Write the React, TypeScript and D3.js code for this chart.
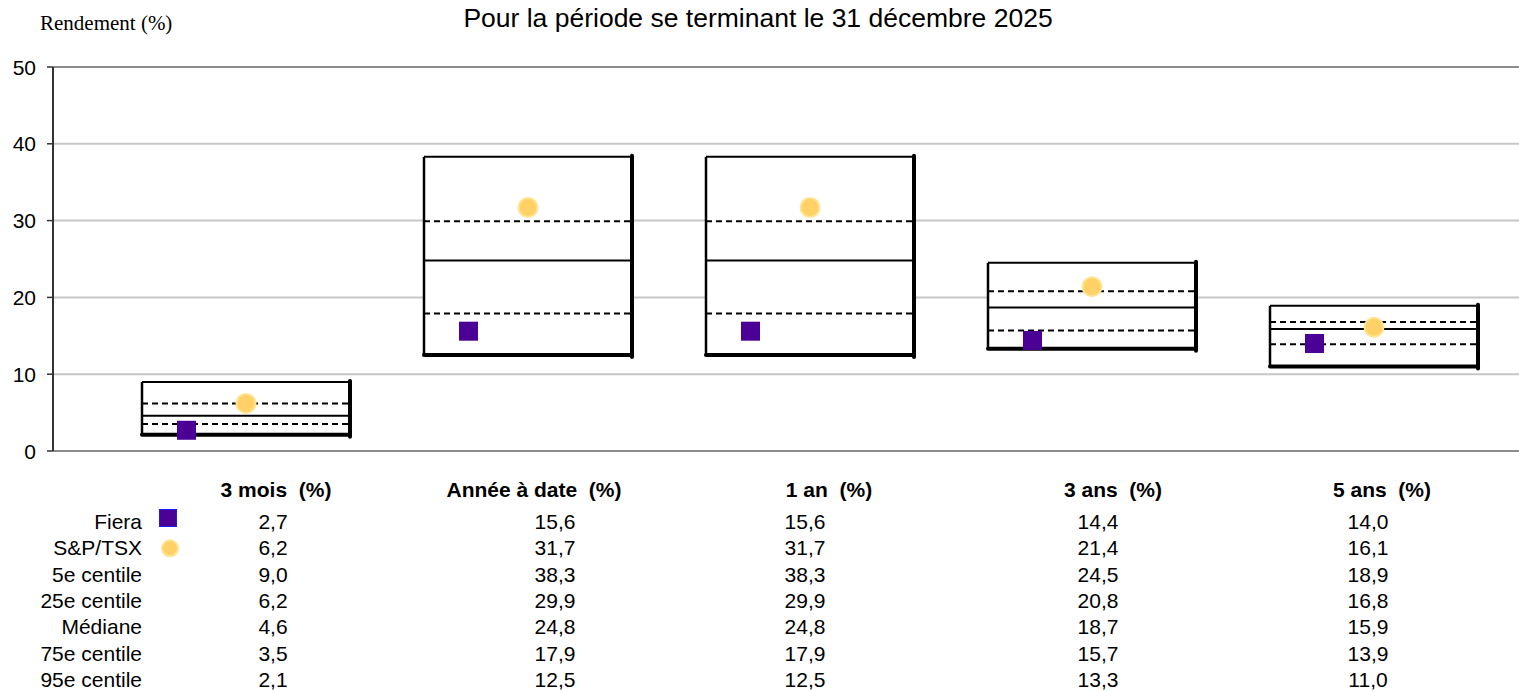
import * as d3 from "d3";

// Périodes et statistiques de l'univers (rendement en %)
const periods = ["3 mois", "Année à date", "1 an", "3 ans", "5 ans"];
const fiera = [2.7, 15.6, 15.6, 14.4, 14.0];
const sptsx = [6.2, 31.7, 31.7, 21.4, 16.1];
const p5 = [9.0, 38.3, 38.3, 24.5, 18.9];
const p25 = [6.2, 29.9, 29.9, 20.8, 16.8];
const median = [4.6, 24.8, 24.8, 18.7, 15.9];
const p75 = [3.5, 17.9, 17.9, 15.7, 13.9];
const p95 = [2.1, 12.5, 12.5, 13.3, 11.0];
const yTicks = [0, 10, 20, 30, 40, 50];

const rowLabels = ["Fiera", "S&P/TSX", "5e centile", "25e centile", "Médiane", "75e centile", "95e centile"];
const rowValues = [fiera, sptsx, p5, p25, median, p75, p95];

const W = 1519;
const H = 691;
const PURPLE = "#4b0096";
const GOLD = "#ffd166";
const GOLD_EDGE = "#ffe493";
const FONT = "Arial, 'Liberation Sans', sans-serif";

// colonnes du tableau (positions mesurées sur la maquette)
const headerX = [276, 534, 829, 1113, 1382];
const valueX = [273, 555, 805, 1098, 1368];

const fmt = (v: number) => v.toFixed(1).replace(".", ",");

export default function App() {
  const y = d3.scaleLinear().domain([0, 50]).range([451, 67]);
  const x = d3.scalePoint<string>().domain(periods).range([246, 1374]);
  const boxW = 208;
  const axisX = 53;

  return (
    <svg
      width={W}
      height={H}
      style={{ position: "absolute", left: 0, top: 0, background: "#fff" }}
      fontFamily={FONT}
    >
      <text x={40} y={30} fontFamily="'Liberation Serif', 'Times New Roman', serif" fontSize={21} fill="#000">
        Rendement (%)
      </text>
      <text x={758} y={27} textAnchor="middle" fontSize={26.5} fill="#000">
        Pour la période se terminant le 31 décembre 2025
      </text>

      {/* quadrillage */}
      {yTicks.map((t) => (
        <g key={t}>
          <line
            x1={axisX}
            x2={W}
            y1={y(t)}
            y2={y(t)}
            stroke={t === 0 || t === 50 ? "#8c8c8c" : "#c6c6c6"}
            strokeWidth={2}
          />
          <line x1={axisX - 6} x2={axisX} y1={y(t)} y2={y(t)} stroke="#333" strokeWidth={1.5} />
          <text x={36} y={y(t) + 7.5} textAnchor="end" fontSize={21} fill="#000">
            {t}
          </text>
        </g>
      ))}
      <line x1={axisX} x2={axisX} y1={y(50)} y2={y(0)} stroke="#333" strokeWidth={2} />

      {/* boîtes */}
      {periods.map((p, i) => {
        const cx = x(p)!;
        const l = cx - boxW / 2;
        const r = cx + boxW / 2;
        const top = y(p5[i]);
        const bot = y(p95[i]);
        return (
          <g key={p}>
            <rect x={l} y={top} width={boxW} height={bot - top} fill="#fff" />
            <line x1={l} x2={r} y1={top} y2={top} stroke="#000" strokeWidth={2} />
            <line x1={l} x2={l} y1={top} y2={bot} stroke="#000" strokeWidth={2.5} />
            <line x1={r} x2={r} y1={top - 1} y2={bot + 2} stroke="#000" strokeWidth={4} strokeLinecap="round" />
            <line x1={l} x2={r} y1={bot} y2={bot} stroke="#000" strokeWidth={4} strokeLinecap="round" />
            <line x1={l} x2={r} y1={y(median[i])} y2={y(median[i])} stroke="#000" strokeWidth={2} />
            <line x1={l} x2={r} y1={y(p25[i])} y2={y(p25[i])} stroke="#000" strokeWidth={2} strokeDasharray="6 4" />
            <line x1={l} x2={r} y1={y(p75[i])} y2={y(p75[i])} stroke="#000" strokeWidth={2} strokeDasharray="6 4" />
            <circle cx={cx} cy={y(sptsx[i])} r={9.5} fill={GOLD} stroke={GOLD_EDGE} strokeWidth={2} />
            <rect x={cx - 69} y={y(fiera[i]) - 9.5} width={19} height={19} fill={PURPLE} />
          </g>
        );
      })}

      {/* tableau */}
      {periods.map((p, i) => (
        <text
          key={p}
          x={headerX[i]}
          y={497}
          textAnchor="middle"
          fontSize={21}
          fontWeight={700}
          fill="#000"
          style={{ whiteSpace: "pre" }}
        >
          {`${p}  (%)`}
        </text>
      ))}
      {rowLabels.map((lab, r) => {
        const ty = 529 + r * 26.3;
        return (
          <g key={lab}>
            <text x={142} y={ty} textAnchor="end" fontSize={21} fill="#000">
              {lab}
            </text>
            {r === 0 && <rect x={159.5} y={ty - 19.5} width={17} height={17} fill={PURPLE} stroke="#1a1aff" strokeWidth={1} />}
            {r === 1 && <circle cx={170} cy={ty - 7} r={8} fill={GOLD} stroke={GOLD_EDGE} strokeWidth={2} />}
            {rowValues[r].map((v, i) => (
              <text key={i} x={valueX[i]} y={ty} textAnchor="middle" fontSize={21} fill="#000">
                {fmt(v)}
              </text>
            ))}
          </g>
        );
      })}
    </svg>
  );
}
